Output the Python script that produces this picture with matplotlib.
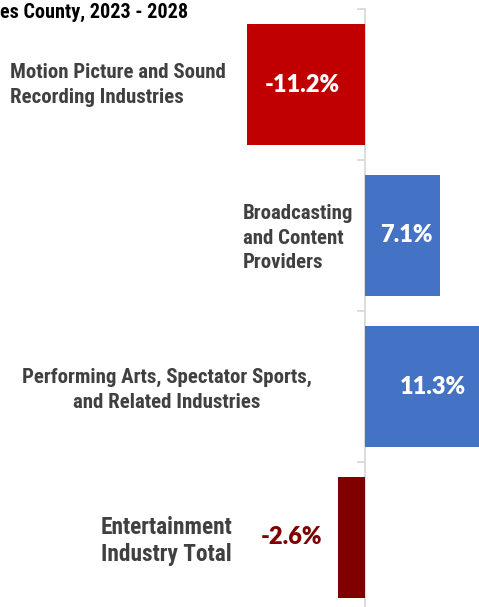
import matplotlib
matplotlib.use("Agg")
import matplotlib.pyplot as plt

categories = [
    "Motion Picture and Sound\nRecording Industries",
    "Broadcasting\nand Content\nProviders",
    "Performing Arts, Spectator Sports,\nand Related Industries",
    "Entertainment\nIndustry Total",
]
values = [-11.2, 7.1, 11.3, -2.6]
value_labels = ["-11.2%", "7.1%", "11.3%", "-2.6%"]
title_text = "es County, 2023 - 2028"

bar_colors = ["#C00000", "#4472C4", "#4472C4", "#800000"]
label_colors = ["white", "white", "white", "#800000"]
# label placement (pixel offsets from bar centre / style)
label_dx = [-4, 4, 8, 0]

W, H = 479, 607
fig = plt.figure(figsize=(W / 100, H / 100), dpi=100)
fig.patch.set_facecolor("white")

ax = fig.add_axes([0, -6 / H, 1, (H + 6 - 9) / H])
px_per_unit = 10.55
ax.set_xlim(-365 / px_per_unit, (W - 365) / px_per_unit)
ax.set_ylim(len(categories) - 0.5, -0.5)

ypos = list(range(len(categories)))
ax.barh(ypos, values, height=0.8, color=bar_colors, zorder=2)

for s in ["top", "right", "bottom"]:
    ax.spines[s].set_visible(False)
ax.spines["left"].set_position(("data", 0))
ax.spines["left"].set_color("#D9D9D9")
ax.spines["left"].set_linewidth(1.3)
ax.spines["left"].set_zorder(1)
ax.set_xticks([])
ax.set_yticks([])
ax.set_yticks([i - 0.5 for i in range(len(categories) + 1)], minor=True)
ax.tick_params(axis="y", which="minor", length=6, width=1.3, color="#D9D9D9",
               labelleft=False)

narrow = ["Roboto Condensed", "Liberation Sans Narrow", "Liberation Sans", "DejaVu Sans"]
calib = ["Lato", "DejaVu Sans"]

# value labels
for i, (v, t) in enumerate(zip(values, value_labels)):
    if i < 3:
        ax.annotate(t, xy=(v / 2, i), xytext=(label_dx[i] * 0.72, 0),
                    textcoords="offset points", ha="center", va="center",
                    color=label_colors[i], fontsize=17, fontweight="heavy",
                    family=calib, zorder=3)
    else:
        ax.annotate(t, xy=(v, i), xytext=(-11, 0), textcoords="offset points",
                    ha="right", va="center", color=label_colors[i],
                    fontsize=17, fontweight="heavy", family=calib, zorder=3)

# category labels (figure pixel positions)
def fx(px):
    return px / W

def fy(py):
    return 1 - py / H

cat_style = dict(color="#404040", fontweight="bold", family=narrow,
                 va="center")
fig.text(fx(10), fy(85), categories[0], ha="left", fontsize=15,
         linespacing=1.35, **cat_style)
fig.text(fx(243), fy(238), categories[1], ha="left", fontsize=15,
         linespacing=1.35, **cat_style)
fig.text(fx(167), fy(390), categories[2], ha="center", multialignment="center",
         fontsize=15, linespacing=1.35, **cat_style)
fig.text(fx(101), fy(541), categories[3], ha="left", fontsize=16.8,
         linespacing=1.2, **cat_style)

fig.text(0, fy(18), title_text, ha="left", va="baseline",
         fontsize=14.5, fontweight="bold", color="black", family=narrow)

fig.savefig("out.png", dpi=100, facecolor="white")
